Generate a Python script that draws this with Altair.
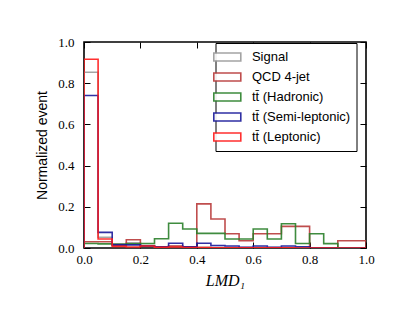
import altair as alt
import pandas as pd

# bin left edges (bin width 0.05) and right end of the range
edges = [0.0, 0.05, 0.1, 0.15, 0.2, 0.25, 0.3, 0.35, 0.4, 0.45,
         0.5, 0.55, 0.6, 0.65, 0.7, 0.75, 0.8, 0.85, 0.9, 0.95]
x_end = 1.0

series_names = ["Signal", "QCD 4-jet", "tt\u0304 (Hadronic)",
                "tt\u0304 (Semi-leptonic)", "tt\u0304 (Leptonic)"]
series_colors = ["#9a9a9a", "#b83a3a", "#2a802a", "#1a1a9a", "#ff1a1a"]

signal = [0.853, 0.052, 0.020, 0.025, 0.012, 0.005, 0.008, 0.004, 0.003, 0.002,
          0.002, 0.002, 0.002, 0.002, 0.002, 0.001, 0.0, 0.0, 0.0, 0.0]
qcd = [0.030, 0.030, 0.012, 0.040, 0.010, 0.005, 0.010, 0.005, 0.214, 0.141,
       0.069, 0.035, 0.069, 0.069, 0.105, 0.105, 0.0, 0.0, 0.035, 0.035]
hadronic = [0.022, 0.020, 0.018, 0.020, 0.022, 0.045, 0.120, 0.092, 0.071, 0.071,
            0.044, 0.044, 0.092, 0.044, 0.118, 0.022, 0.069, 0.021, 0.0, 0.0]
semilep = [0.740, 0.076, 0.015, 0.015, 0.010, 0.006, 0.023, 0.006, 0.023, 0.012,
           0.010, 0.004, 0.010, 0.004, 0.010, 0.006, 0.0, 0.0, 0.0, 0.0]
leptonic = [0.916, 0.044, 0.008, 0.005, 0.010, 0.003, 0.005, 0.002, 0.002, 0.001,
            0.001, 0.001, 0.001, 0.001, 0.001, 0.0, 0.0, 0.0, 0.0, 0.0]

tick_vals = [0.0, 0.2, 0.4, 0.6, 0.8, 1.0]

rows = []
for s, (name, vals) in enumerate(zip(series_names,
                                     [signal, qcd, hadronic, semilep, leptonic])):
    pts = [(edges[0], 0.0)] + list(zip(edges, vals)) + [(x_end, vals[-1]), (x_end, 0.0)]
    for i, (xv, yv) in enumerate(pts):
        rows.append({"series": name, "s": s, "i": i, "x": xv, "y": yv})
df = pd.DataFrame(rows)

xscale = alt.Scale(domain=[0, 1], nice=False, zero=False)
yscale = alt.Scale(domain=[0, 1], nice=False, zero=False)

legend_path = "M-2,-0.6L2,-0.6L2,0.6L-2,0.6Z"

lines = alt.Chart(df).mark_line(
    interpolate="step-after", strokeWidth=1.6, opacity=0.9, clip=True
).encode(
    x=alt.X("x:Q", scale=xscale,
            axis=alt.Axis(orient="bottom", values=tick_vals, format=".1f",
                          offset=-6, tickSize=6, tickColor="black", tickWidth=1,
                          domain=False, grid=False, labelPadding=5,
                          labelFlush=False,
                          labelFont="Liberation Serif", labelFontSize=13,
                          labelColor="black",
                          title="LMD\u2081", titleFont="Liberation Serif",
                          titleFontStyle="italic", titleFontWeight="normal",
                          titleFontSize=16, titleColor="black", titlePadding=6)),
    y=alt.Y("y:Q", scale=yscale,
            axis=alt.Axis(orient="left", values=tick_vals, format=".1f",
                          offset=-6, tickSize=6, tickColor="black", tickWidth=1,
                          domain=False, grid=False, labelPadding=10,
                          labelFlush=False,
                          labelFont="Liberation Serif", labelFontSize=13,
                          labelColor="black",
                          title="Normalized event", titleFont="Liberation Sans",
                          titleFontWeight="normal", titleFontSize=14,
                          titleColor="black", titlePadding=8)),
    color=alt.Color("series:N",
                    scale=alt.Scale(domain=series_names, range=series_colors),
                    sort=series_names,
                    legend=alt.Legend(orient="none", legendX=131.5, legendY=1,
                                      title=None, symbolType=legend_path,
                                      symbolSize=182, symbolStrokeWidth=1.6,
                                      symbolFillColor="white",
                                      symbolOffset=-2.2, labelOffset=16.6,
                                      labelFont="Liberation Sans",
                                      labelFontSize=13, labelColor="black",
                                      rowPadding=4, padding=6,
                                      fillColor="white", strokeColor="black")),
    detail="s:N",
    order="i:Q",
)

ticks2 = alt.Chart(df).mark_line(opacity=0).encode(
    x=alt.X("x:Q", scale=xscale,
            axis=alt.Axis(orient="top", values=tick_vals, offset=-6, tickSize=6,
                          tickColor="black", tickWidth=1, labels=False,
                          domain=False, grid=False, title=None)),
    y=alt.Y("y:Q", scale=yscale,
            axis=alt.Axis(orient="right", values=tick_vals, offset=-6, tickSize=6,
                          tickColor="black", tickWidth=1, labels=False,
                          domain=False, grid=False, title=None)),
    detail="s:N",
    order="i:Q",
)

chart = alt.layer(lines, ticks2).resolve_axis(
    x="independent", y="independent"
).properties(
    width=282, height=206,
    autosize=alt.AutoSizeParams(type="none"),
    padding={"left": 76, "top": 34, "right": 37, "bottom": 71},
).configure_view(
    stroke="black", strokeWidth=1.6
)

chart.save("out.html", embed_options={"renderer": "svg", "actions": False})
